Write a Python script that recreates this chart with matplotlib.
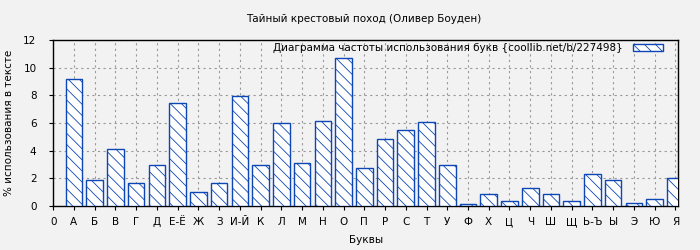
import matplotlib
matplotlib.use("Agg")
import matplotlib.pyplot as plt

plt.rcParams['hatch.linewidth'] = 0.6
plt.rcParams['hatch.color'] = '#0d47b5'

title = "Тайный крестовый поход (Оливер Боуден)"
legend_label = "Диаграмма частоты использования букв {coollib.net/b/227498}"
letters = ["А", "Б", "В", "Г", "Д", "Е-Ё", "Ж", "З", "И-Й", "К", "Л", "М", "Н", "О", "П",
           "Р", "С", "Т", "У", "Ф", "Х", "Ц", "Ч", "Ш", "Щ", "Ь-Ъ", "Ы", "Э", "Ю", "Я"]
values = [9.19, 1.85, 4.10, 1.63, 2.93, 7.42, 0.98, 1.63, 7.97, 3.00, 6.02, 3.14, 6.17, 10.70, 2.78,
          4.87, 5.52, 6.10, 2.93, 0.14, 0.84, 0.34, 1.27, 0.84, 0.34, 2.28, 1.85, 0.19, 0.48, 2.06]
yticks = [0, 2, 4, 6, 8, 10, 12]

fs = 7.5
fig = plt.figure(figsize=(7, 2.5), dpi=100, facecolor='#f2f2f2')
ax = fig.add_axes([0.076, 0.176, 0.893, 0.664])
ax.set_facecolor('#f2f2f2')

pos = list(range(1, len(letters) + 1))
ax.bar(pos, values, width=0.8, facecolor='white', edgecolor='#0d47b5', hatch='\\\\\\',
       linewidth=1.0, label=legend_label, zorder=3)

ax.set_xlim(0, 30.14)
ax.set_ylim(0, 12)
ax.set_xticks([0] + pos)
ax.set_xticklabels(["0"] + letters)
ax.set_yticks(yticks)
ax.tick_params(labelsize=fs, length=3, width=0.8)
ax.tick_params(axis='x', pad=5)
ax.tick_params(axis='y', pad=9)
ax.grid(True, color='#999999', linestyle=(0, (2, 3)), linewidth=0.8, zorder=0)
for s in ax.spines.values():
    s.set_linewidth(1.0)
    s.set_color('black')

ax.set_xlabel("Буквы", fontsize=fs, labelpad=6)
ax.set_ylabel("% использования в тексте", fontsize=fs, labelpad=7)
fig.text(0.519, 0.925, title, ha='center', va='center', fontsize=fs)

leg = ax.legend(loc='upper right', bbox_to_anchor=(1 - 12 / 625, 1.0), frameon=False,
                fontsize=fs, markerfirst=False, handlelength=2.9, handleheight=0.6,
                borderaxespad=0.1, handletextpad=1.0, borderpad=0.2)

fig.savefig("out.png", dpi=100, facecolor=fig.get_facecolor())
